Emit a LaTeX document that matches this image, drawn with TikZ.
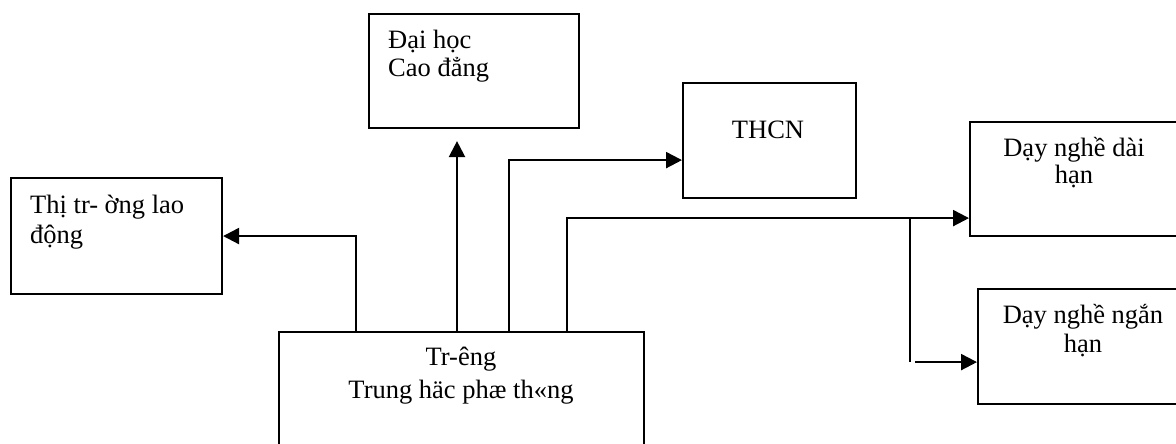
\documentclass[tikz,border=0pt]{standalone}
\usepackage{fontspec}
\setmainfont{Liberation Serif}
\usetikzlibrary{arrows.meta,calc}
\begin{document}
\begin{tikzpicture}[x=1pt,y=-1pt,
  box/.style={draw,line width=2.1pt,rectangle,anchor=north west,inner sep=0pt},
  txt/.style={inner sep=0pt,font=\fontsize{26.5}{30}\selectfont},
  link/.style={line width=2.3pt},
  arr/.style={link,-{Triangle[length=16pt,width=16pt]}}]
\clip (0,0) rectangle (1176,444);

% boxes
\node[box,minimum width=211pt,minimum height=116pt] (tl) at (10,177) {};
\node[box,minimum width=210pt,minimum height=114pt] (dh) at (368,13) {};
\node[box,minimum width=173pt,minimum height=115pt] (thcn) at (682,82) {};
\node[box,minimum width=210pt,minimum height=114pt] (dn1) at (969,121) {};
\node[box,minimum width=212pt,minimum height=115pt] (dn2) at (977,288) {};
\node[box,minimum width=365pt,minimum height=140pt] (tr) at (278,331) {};

% texts
\node[txt,anchor=base west] (tla) at (30,213) {Thị tr- ờng lao};
\node[txt,anchor=base west] (tlb) at (30,243) {động};
\node[txt,anchor=base west] (dha) at (388,49) {Đại học};
\node[txt,anchor=base west] (dhb) at (388,77) {Cao đẳng};
\node[txt,anchor=base] (thcnt) at (768,139) {THCN};
\node[txt,anchor=base] (dn1a) at (1074,156) {Dạy nghề dài};
\node[txt,anchor=base] (dn1b) at (1074,183) {hạn};
\node[txt,anchor=base] (dn2a) at (1083,323) {Dạy nghề ngắn};
\node[txt,anchor=base] (dn2b) at (1083,352) {hạn};
\node[txt,anchor=base] (tra) at (461,365) {Tr-êng};
\node[txt,anchor=base] (trb) at (461,398) {Trung häc phæ th«ng};

% connector start points on the top of the school box
\coordinate (s1) at ($(tr.north west)+(78,0)$);
\coordinate (s2) at ($(tr.north west)+(179,0)$);
\coordinate (s3) at ($(tr.north west)+(231,0)$);
\coordinate (s4) at ($(tr.north west)+(289,0)$);
% arrow entry points
\coordinate (e3) at ($(thcn.south west)+(0,-39)$);
\coordinate (e4) at ($(dn1.south west)+(0,-19)$);
\coordinate (e5) at ($(dn2.south west)+(0,-43)$);
\coordinate (j) at ($(e4)+(-59,0)$);
\coordinate (jb) at (j |- e5);
\coordinate (jc) at ($(jb)+(5,0)$);

\draw[arr] (s1) |- (tl.east);
\draw[arr,shorten >=12pt] (s2) -- (s2 |- dh.south);
\draw[arr] (s3) |- (e3);
\draw[arr] (s4) |- (e4);
\draw[link] (j) -- (jb);
\draw[arr] (jc) -- (e5);
\end{tikzpicture}
\end{document}
